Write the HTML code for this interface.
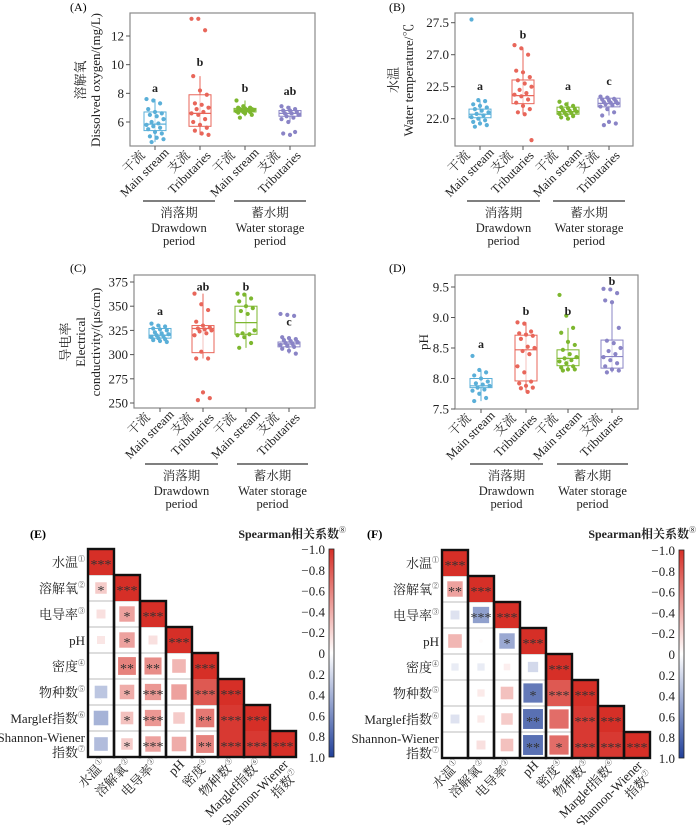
<!DOCTYPE html>
<html><head><meta charset="utf-8">
<style>
html,body{margin:0;padding:0;background:#fff;}
svg{display:block;font-family:"Liberation Serif","Noto Serif CJK SC",serif;}
</style></head>
<body>
<svg id="fig" width="700" height="825" viewBox="0 0 700 825" xmlns="http://www.w3.org/2000/svg"></svg>
<script>
// ---------- Boxplot data ----------
const groupNames = ["干流|Main stream","支流|Tributaries","干流|Main stream","支流|Tributaries"];
const groupColors = ["#5aafd8","#e8665a","#7db72f","#8a84c6"];
// A: dissolved oxygen
const doPoints = [
 [7.6,7.5,7.3,6.9,6.7,6.6,6.5,6.4,6.2,6.0,5.9,5.8,5.7,5.6,5.5,5.3,5.2,5.0,4.9,4.8,4.6],
 [13.2,13.2,12.4,9.2,8.2,7.9,7.3,7.2,7.0,6.9,6.7,6.6,6.5,6.2,6.0,5.8,5.6,5.4,5.2,5.1],
 [7.5,7.1,7.0,7.0,6.95,6.9,6.9,6.85,6.85,6.8,6.8,6.75,6.7,6.7,6.65,6.6,6.5,6.3],
 [7.1,7.0,6.9,6.8,6.8,6.7,6.6,6.6,6.5,6.4,6.3,6.2,6.0,5.3,5.2,5.1]];
const doStats = [[4.6,5.4,5.85,6.7,7.6],[5.1,5.7,6.6,7.9,9.2],[6.4,6.7,6.85,6.95,7.5],[6.0,6.4,6.6,6.8,7.1]];
const doLetters = ["a","b","b","ab"];
const doLetterY = [8.1,9.9,8.1,7.9];
const doTicks = [6,8,10,12];
const doTickLabels = ["6","8","10","12"];
// B: water temperature (axis units: tick index)
const wtPoints = [
 [3.1,0.58,0.55,0.45,0.4,0.35,0.3,0.25,0.2,0.15,0.1,0.05,0.0,-0.05,-0.1,-0.15,-0.2,-0.25],
 [2.3,2.2,2.0,1.5,1.45,1.3,1.2,1.1,1.0,0.9,0.8,0.75,0.7,0.6,0.5,0.4,0.3,0.2,0.14,-0.67],
 [0.53,0.45,0.4,0.36,0.33,0.3,0.27,0.25,0.22,0.2,0.18,0.15,0.12,0.08,0.04,0.0],
 [0.69,0.66,0.62,0.6,0.57,0.55,0.52,0.5,0.48,0.45,0.42,0.38,0.3,0.2,0.1,-0.1,-0.15,-0.2]];
const wtStats = [[-0.2,0.03,0.14,0.30,0.58],[0.14,0.47,0.72,1.21,2.22],[0.0,0.14,0.22,0.36,0.53],[0.1,0.37,0.48,0.64,0.69]];
const wtLetters = ["a","b","a","c"];
const wtLetterY = [0.9,2.5,0.9,1.05];
const wtTicks = [0,1,2,3];
const wtTickLabels = ["22.0","22.5","27.0","27.5"];
// C: conductivity
const ecPoints = [
 [332,330,329,327,326,325,323,322,321,320,319,318,317,316,315,314,313],
 [363,352,346,334,330,328,327,326,325,324,322,320,303,296,296,261,255,253],
 [363,362,358,355,350,348,345,342,325,322,321,320,318,312,307],
 [342,341,340,318,317,316,315,314,313,312,311,310,309,308,306,304,301]];
const ecStats = [[313,317,320,327,331],[296,302,327,330,363],[307,321,333,350,363],[301,308,311,313,318]];
const ecLetters = ["a","ab","b","c"];
const ecLetterY = [341,366,366,330];
const ecTicks = [250,275,300,325,350,375];
const ecTickLabels = ["250","275","300","325","350","375"];
// D: pH
const phPoints = [
 [8.37,8.14,8.1,8.05,8.0,7.95,7.92,7.9,7.88,7.85,7.82,7.8,7.75,7.68,7.63],
 [8.92,8.9,8.77,8.74,8.72,8.7,8.65,8.52,8.5,8.45,8.4,8.2,8.1,7.95,7.92,7.88,7.85,7.84,7.78],
 [9.37,9.03,8.83,8.75,8.6,8.55,8.47,8.4,8.35,8.33,8.3,8.28,8.25,8.2,8.18,8.15,8.15,8.13],
 [9.47,9.46,9.4,9.28,9.25,8.83,8.62,8.58,8.5,8.45,8.4,8.35,8.3,8.25,8.2,8.15,8.13,8.1]];
const phStats = [[7.63,7.85,7.88,8.0,8.14],[7.77,7.96,8.47,8.71,8.92],[8.13,8.21,8.33,8.47,8.83],[8.1,8.17,8.36,8.63,9.27]];
const phLetters = ["a","b","b","b"];
const phLetterY = [8.5,9.04,9.04,9.53];
const phTicks = [7.5,8.0,8.5,9.0,9.5];
const phTickLabels = ["7.5","8.0","8.5","9.0","9.5"];

// ---------- Heatmap data ----------
const hmLabels = ["水温|①","溶解氧|②","电导率|③","pH|","密度|④","物种数|⑤","Marglef指数|⑥","Shannon-Wiener|指数|⑦"];
const corrE = [
 [1],
 [0.25,1],
 [0.15,0.45,1],
 [0.12,0.45,0.15,1],
 [0,0.6,0.55,0.35,1],
 [-0.3,0.4,0.5,0.45,0.8,1],
 [-0.4,0.3,0.5,0.25,0.65,0.95,1],
 [-0.35,0.25,0.45,0.4,0.6,0.95,0.95,1]];
const sigE = [
 ["***"],
 ["*","***"],
 ["","*","***"],
 ["","*","","***"],
 ["","**","**","","***"],
 ["","*","***","","***","***"],
 ["","*","***","","**","***","***"],
 ["","*","***","","**","***","***","***"]];
const corrF = [
 [1],
 [0.45,1],
 [-0.15,-0.5,1],
 [0.35,0.02,-0.45,1],
 [-0.1,-0.1,0.08,-0.2,1],
 [0,0.1,0.3,-0.7,0.8,1],
 [-0.15,0.1,0.25,-0.75,0.7,0.95,1],
 [0,0.15,0.3,-0.75,0.7,0.95,0.95,1]];
const sigF = [
 ["***"],
 ["**","***"],
 ["","***","***"],
 ["","","*","***"],
 ["","","","","***"],
 ["","","","*","***","***"],
 ["","","","**","","***","***"],
 ["","","","**","*","***","***","***"]];
const cbTickLabels = ["−1.0","−0.8","−0.6","−0.4","−0.2","0","0.2","0.4","0.6","0.8","1.0"];

// ---------- helpers ----------
const NS = "http://www.w3.org/2000/svg";
const fig = document.getElementById("fig");
function mk(tag, attrs, parent, text){
  const e = document.createElementNS(NS, tag);
  for (const k in attrs) e.setAttribute(k, attrs[k]);
  if (text !== undefined) e.textContent = text;
  (parent||fig).appendChild(e);
  return e;
}

function boxPanel(cfg){
  const g = mk("g", {});
  
  
  const y = v => cfg.p0 + (v - cfg.v0) * (cfg.p1 - cfg.p0) / (cfg.v1 - cfg.v0);
  const x = i => cfg.gx[i];
  // frame
  const fr = mk("rect", {x:cfg.x0, y:cfg.y0, width:cfg.x1-cfg.x0, height:cfg.y1-cfg.y0, fill:"none", stroke:"#8a8a8a", "stroke-width":1.2}, g);
  
  
  // panel label
  const pl = mk("text", {x:cfg.lx, y:cfg.ly, "font-size":12}, g, cfg.label);
  
  
  // y ticks
  cfg.ticks.forEach((t, i) => {
    mk("line", {x1:cfg.x0-4, x2:cfg.x0, y1:y(t), y2:y(t), stroke:"#555", "stroke-width":1}, g);
    const tl = mk("text", {x:cfg.x0-6, y:y(t)+4.5, "font-size":13, "text-anchor":"end", fill:"#222"}, g, cfg.tickLabels[i]);
    
    
  });
  // y title
  const yt = mk("text", {transform:`translate(${cfg.tx},${cfg.ty}) rotate(-90)`, "font-size":13, "text-anchor":"middle", fill:"#222"}, g);
  
  
  cfg.title.forEach((ln, i) => mk("tspan", {x:0, y:i*15 - (cfg.title.length-1)*15}, yt, ln));
  // groups
  for (let i = 0; i < 4; i++){
    const c = groupColors[i], s = cfg.stats[i], cx = x(i), w = 11;
    mk("line", {x1:cx, x2:cx, y1:cfg.y1, y2:cfg.y1+4, stroke:"#555"}, g);
    const wk = mk("line", {x1:cx, x2:cx, y1:y(s[0]), y2:y(s[4]), stroke:c, "stroke-width":1}, g);
    
    
    const bx = mk("rect", {x:cx-w, y:y(s[3]), width:2*w, height:y(s[1])-y(s[3]), fill:"#fff", "fill-opacity":0.6, stroke:c, "stroke-width":1}, g);
    
    
    mk("line", {x1:cx-w, x2:cx+w, y1:y(s[2]), y2:y(s[2]), stroke:c, "stroke-width":1.2}, g);
    cfg.pts[i].forEach((v, k) => {
      const jx = ((k*37) % 11 - 5) * 1.7;
      const p = mk("circle", {cx:cx+jx, cy:y(v), r:2.1, fill:c}, g);
      
      
    });
    const lt = mk("text", {x:cx, y:y(cfg.letterY[i]), "font-size":12, "font-weight":"bold", "text-anchor":"middle", fill:"#222"}, g, cfg.letters[i]);
    
    
    // x label
    const parts = groupNames[i].split("|");
    const xl = mk("text", {transform:`translate(${cx-14},${cfg.y1+23}) rotate(-45)`, "font-size":12.5, "text-anchor":"middle", fill:"#222"}, g);
    
    
    mk("tspan", {x:0, y:-6}, xl, parts[0]);
    mk("tspan", {x:0, y:9}, xl, parts[1]);
  }
  // period underlines
  const per = [["消落期","Drawdown","period"],["蓄水期","Water storage","period"]];
  cfg.ul.forEach((u, i) => {
    const ln = mk("line", {x1:u[0], x2:u[1], y1:cfg.uy, y2:cfg.uy, stroke:"#333", "stroke-width":1.2}, g);
    
    
    const m = (u[0]+u[1])/2;
    const t = mk("text", {"font-size":12.5, "text-anchor":"middle", fill:"#222"}, g);
    
    
    mk("tspan", {x:m, y:cfg.uy+16}, t, per[i][0]);
    mk("tspan", {x:m, y:cfg.uy+31}, t, per[i][1]);
    mk("tspan", {x:m, y:cfg.uy+44}, t, per[i][2]);
  });
}

boxPanel({name:"panel-a-dissolved-oxygen", label:"(A)", lx:70, ly:11, x0:130, x1:315, y0:13, y1:146,
  v0:12, p0:36, v1:6, p1:122, gx:[155,200,245,290], ticks:doTicks, tickLabels:doTickLabels,
  pts:doPoints, stats:doStats, letters:doLetters, letterY:doLetterY,
  title:["溶解氧","Dissolved oxygen/(mg/L)"], tx:100, ty:80, uy:201, ul:[[143,215],[234,306]]});
boxPanel({name:"panel-b-water-temperature", label:"(B)", lx:389, ly:11, x0:455, x1:633, y0:13, y1:146,
  v0:0, p0:118.7, v1:3, p1:22.7, gx:[480,523,568,609], ticks:wtTicks, tickLabels:wtTickLabels,
  pts:wtPoints, stats:wtStats, letters:wtLetters, letterY:wtLetterY,
  title:["水温","Water temperature/℃"], tx:413, ty:80, uy:201, ul:[[467,540],[553,625]]});
boxPanel({name:"panel-c-conductivity", label:"(C)", lx:70, ly:272, x0:134, x1:315, y0:275, y1:408,
  v0:375, p0:282, v1:250, p1:403, gx:[160,203,246,289], ticks:ecTicks, tickLabels:ecTickLabels,
  pts:ecPoints, stats:ecStats, letters:ecLetters, letterY:ecLetterY,
  title:["导电率","Electrical","conductivity/(μs/cm)"], tx:100, ty:342, uy:464, ul:[[145,218],[237,308]]});
boxPanel({name:"panel-d-ph", label:"(D)", lx:389, ly:272, x0:455, x1:638, y0:275, y1:409,
  v0:9.5, p0:287, v1:7.5, p1:409, gx:[481,526,568,612], ticks:phTicks, tickLabels:phTickLabels,
  pts:phPoints, stats:phStats, letters:phLetters, letterY:phLetterY,
  title:["pH"], tx:428, ty:342, uy:464, ul:[[470,543],[557,628]]});

// ---------- heatmaps ----------
const defs = mk("defs", {});
const grad = mk("linearGradient", {id:"cb", x1:0, y1:0, x2:0, y2:1}, defs);
mk("stop", {offset:"0", "stop-color":"#d62f27"}, grad);
mk("stop", {offset:"0.5", "stop-color":"#ffffff"}, grad);
mk("stop", {offset:"1", "stop-color":"#21409a"}, grad);

function colr(r){
  const a = Math.min(1, Math.abs(r));
  const t = r >= 0 ? [214,47,39] : [33,64,154];
  return `rgb(${Math.round(255+(t[0]-255)*a)},${Math.round(255+(t[1]-255)*a)},${Math.round(255+(t[2]-255)*a)})`;
}

function heatPanel(cfg){
  const g = mk("g", {});
  
  
  const cs = cfg.cell, n = 8;
  const X = j => cfg.x0 + j*cs, Y = i => cfg.y0 + i*cs;
  const pl = mk("text", {x:cfg.lx, y:cfg.ly, "font-size":12, "font-weight":"bold"}, g, cfg.label);
  
  
  // row grid lines
  for (let i = 1; i < n; i++) mk("line", {x1:X(0), x2:X(i), y1:Y(i), y2:Y(i), stroke:"#bbb", "stroke-width":1}, g);
  for (let i = 0; i < n; i++){
    for (let j = 0; j <= i; j++){
      const r = cfg.corr[i][j];
      const side = Math.abs(r) >= 0.78 ? cs : (cs-3) * Math.sqrt(Math.abs(r));
      const cx = X(j)+cs/2, cy = Y(i)+cs/2;
      if (side > 0.5){
        const sq = mk("rect", {x:cx-side/2, y:cy-side/2, width:side, height:side, fill:colr(r)}, g);
        
        
      }
      const s = cfg.sig[i][j];
      if (s){
        const st = mk("text", {x:cx, y:cy+7, "font-size":14, "text-anchor":"middle", fill:"#333"}, g, s);
        
        
      }
    }
  }
  // column outlines
  for (let j = 0; j < n; j++){
    const o = mk("rect", {x:X(j), y:Y(j), width:cs, height:Y(n)-Y(j), fill:"none", stroke:"#111", "stroke-width":2.4}, g);
    
    
  }
  // row labels
  hmLabels.forEach((lab, i) => {
    const p = lab.split("|");
    const t = mk("text", {"font-size":13, "text-anchor":"end", fill:"#222"}, g);
    
    
    if (p.length === 3){
      mk("tspan", {x:X(0)-3, y:Y(i)+11}, t, p[0]);
      const t2 = mk("text", {x:X(0)-3, y:Y(i)+26, "font-size":13, "text-anchor":"end", fill:"#222"}, g, p[1]);
      mk("tspan", {"font-size":7, dy:-6}, t2, p[2]);
    } else {
      t.setAttribute("x", X(0)-3 - (p[1] ? 0 : 0));
      t.setAttribute("y", Y(i)+cs/2+5);
      t.textContent = p[0];
      if (p[1]) mk("tspan", {"font-size":7, dy:-6}, t, p[1]);
    }
    // column labels
    const ct = mk("text", {transform:`translate(${X(i)+cs/2+6},${Y(n)+8}) rotate(-45)`, "font-size":13, "text-anchor":"end", fill:"#222"}, g);
    
    
    if (p.length === 3){
      mk("tspan", {x:0, y:0}, ct, p[0]);
      const t3 = mk("tspan", {x:0, y:15}, ct, p[1]);
      mk("tspan", {"font-size":7, dy:-6}, ct, p[2]);
    } else {
      mk("tspan", {}, ct, p[0]);
      if (p[1]) mk("tspan", {"font-size":7, dy:-6}, ct, p[1]);
    }
  });
  // colorbar
  const cb = mk("rect", {x:cfg.cbx, y:cfg.y0, width:5, height:Y(n)-cfg.y0, fill:"url(#cb)", stroke:"#222", "stroke-width":0.8}, g);
  
  
  cbTickLabels.forEach((l, k) => {
    const yy = cfg.y0 + k*(Y(n)-cfg.y0)/(cbTickLabels.length-1);
    const tl = mk("text", {x:cfg.cbx-4, y:yy+5, "font-size":13, "text-anchor":"end", fill:"#222"}, g, l);
    
    
  });
  const tt = mk("text", {x:cfg.tRight, y:cfg.ly, "font-size":12, "font-weight":"bold", "text-anchor":"end", fill:"#222"}, g, "Spearman相关系数");
  
  
  mk("tspan", {"font-size":7, dy:-6}, tt, "⑧");
}

heatPanel({name:"panel-e-correlation-drawdown", label:"(E)", lx:30, ly:538, x0:88, y0:549, cell:26, corr:corrE, sig:sigE, cbx:329, tRight:346});
heatPanel({name:"panel-f-correlation-storage", label:"(F)", lx:367, ly:538, x0:442, y0:550, cell:26, corr:corrF, sig:sigF, cbx:679, tRight:696});
</script>
</body></html>
